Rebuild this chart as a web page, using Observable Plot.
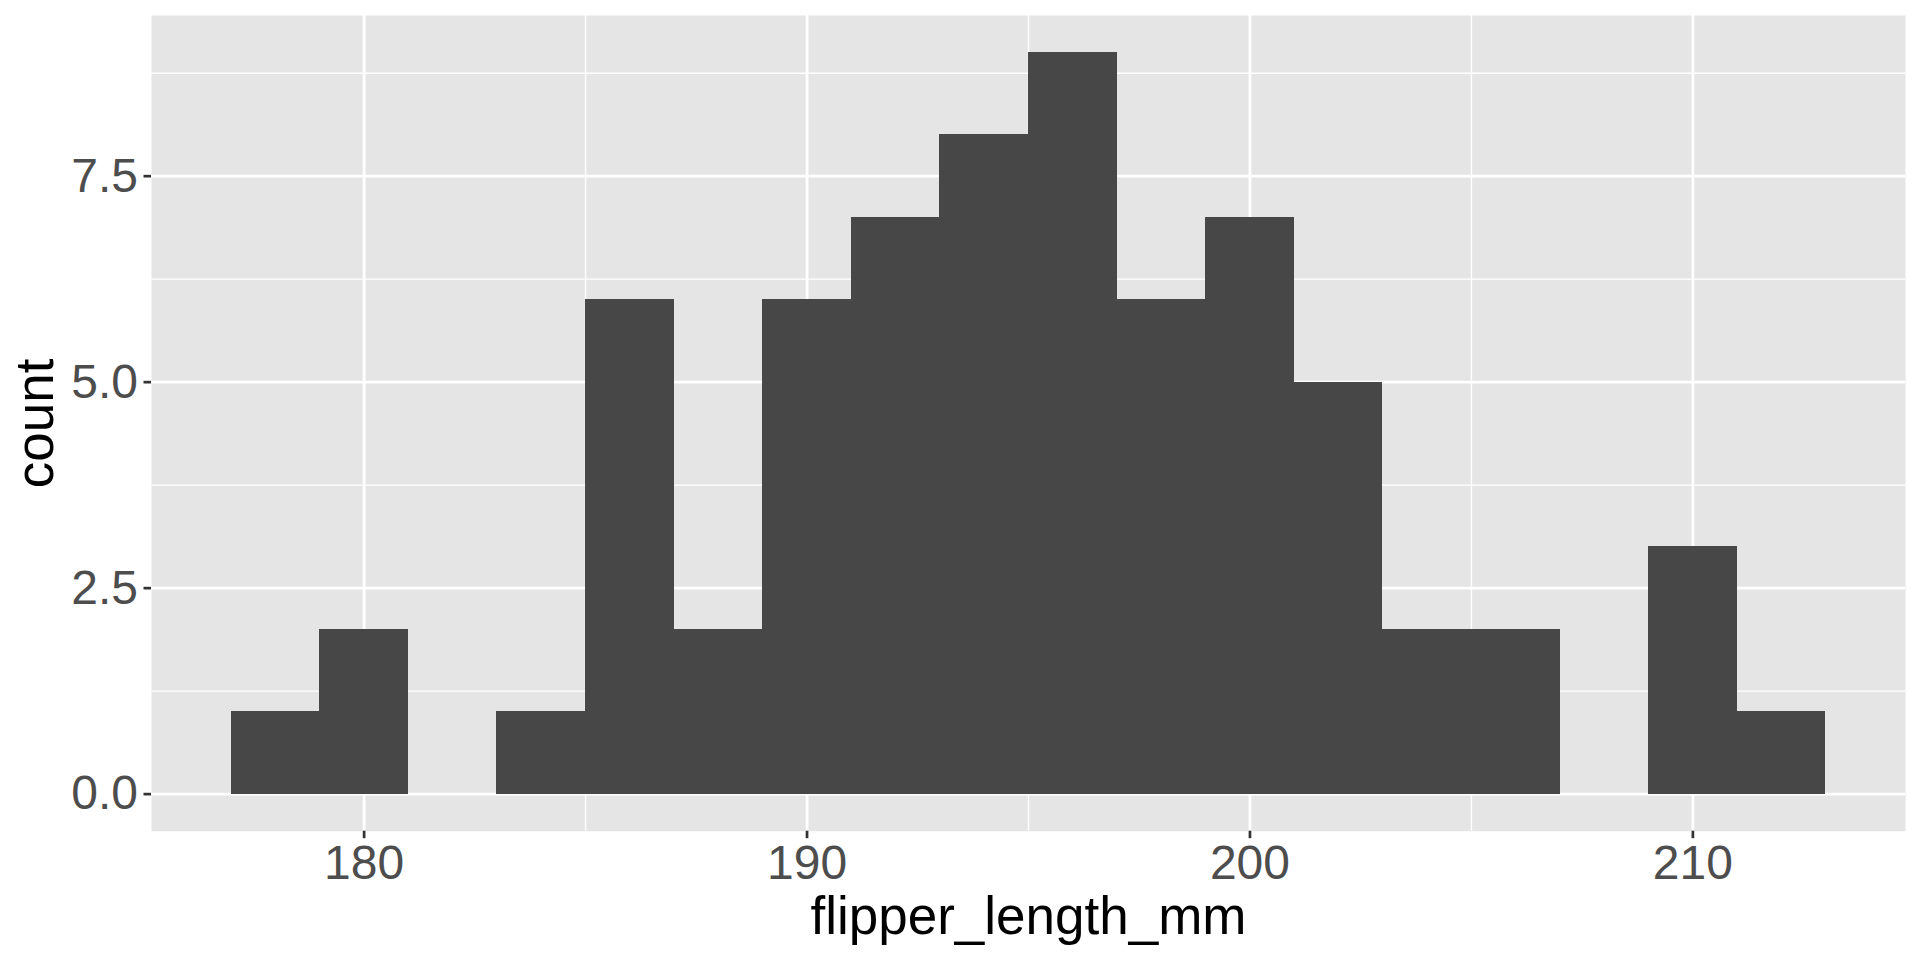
<!DOCTYPE html>
<html>
<head>
<meta charset="utf-8">
<script src="https://cdn.jsdelivr.net/npm/d3@7"></script>
<script src="https://cdn.jsdelivr.net/npm/@observablehq/plot@0.6"></script>
<style>
  html, body { margin: 0; padding: 0; background: #ffffff; }
</style>
</head>
<body>
<script>
// Histogram bins (binwidth 2) and counts
const binStart = [177, 179, 181, 183, 185, 187, 189, 191, 193, 195, 197, 199, 201, 203, 205, 207, 209, 211];
const counts   = [1, 2, 0, 1, 6, 2, 6, 7, 8, 9, 6, 7, 5, 2, 2, 0, 3, 1];
const binWidth = 2;

const xMajor = [180, 190, 200, 210];
const xMinor = [185, 195, 205];
const yMajor = [0, 2.5, 5, 7.5];
const yMinor = [1.25, 3.75, 6.25, 8.75];

const xTitle = "flipper_length_mm";
const yTitle = "count";

const data = binStart.map((s, i) => ({x1: s, x2: s + binWidth, count: counts[i]}));

const font = "'Liberation Sans', Arial, Helvetica, sans-serif";

const chart = Plot.plot({
  width: 1920,
  height: 960,
  marginLeft: 151,
  marginRight: 15,
  marginTop: 15,
  marginBottom: 129.3,
  style: {fontFamily: font, background: "#ffffff", overflow: "visible"},
  x: {domain: [175.2, 214.8]},
  y: {domain: [-0.45, 9.45]},
  marks: [
    Plot.frame({fill: "#e5e5e5", stroke: "none"}),
    Plot.gridX(xMinor, {stroke: "#ffffff", strokeOpacity: 1, strokeWidth: 1.4}),
    Plot.gridY(yMinor, {stroke: "#ffffff", strokeOpacity: 1, strokeWidth: 1.4}),
    Plot.gridX(xMajor, {stroke: "#ffffff", strokeOpacity: 1, strokeWidth: 2.8}),
    Plot.gridY(yMajor, {stroke: "#ffffff", strokeOpacity: 1, strokeWidth: 2.8}),
    Plot.rectY(data.filter(d => d.count > 0), {
      x1: "x1", x2: "x2", y: "count", fill: "#474747", shapeRendering: "crispEdges"
    }),
    Plot.axisX({
      ticks: xMajor, tickSize: 7.5, tickPadding: 6, fontSize: 48,
      stroke: "#333333", fill: "#4d4d4d", strokeWidth: 2.7, label: null,
      tickFormat: d3.format("d")
    }),
    Plot.axisY({
      ticks: yMajor, tickSize: 7.5, tickPadding: 6, fontSize: 48,
      stroke: "#333333", fill: "#4d4d4d", strokeWidth: 2.7, label: null,
      tickFormat: d3.format(".1f")
    }),
    Plot.text([xTitle], {
      text: d => d, frameAnchor: "bottom", dy: 102.6, lineAnchor: "bottom",
      fontSize: 53, fill: "#000000", textAnchor: "middle"
    }),
    Plot.text([yTitle], {
      text: d => d, frameAnchor: "left", dx: -98.3, rotate: -90, lineAnchor: "bottom",
      fontSize: 53, fill: "#000000", textAnchor: "middle"
    })
  ]
});

document.body.appendChild(chart);
</script>
</body>
</html>
